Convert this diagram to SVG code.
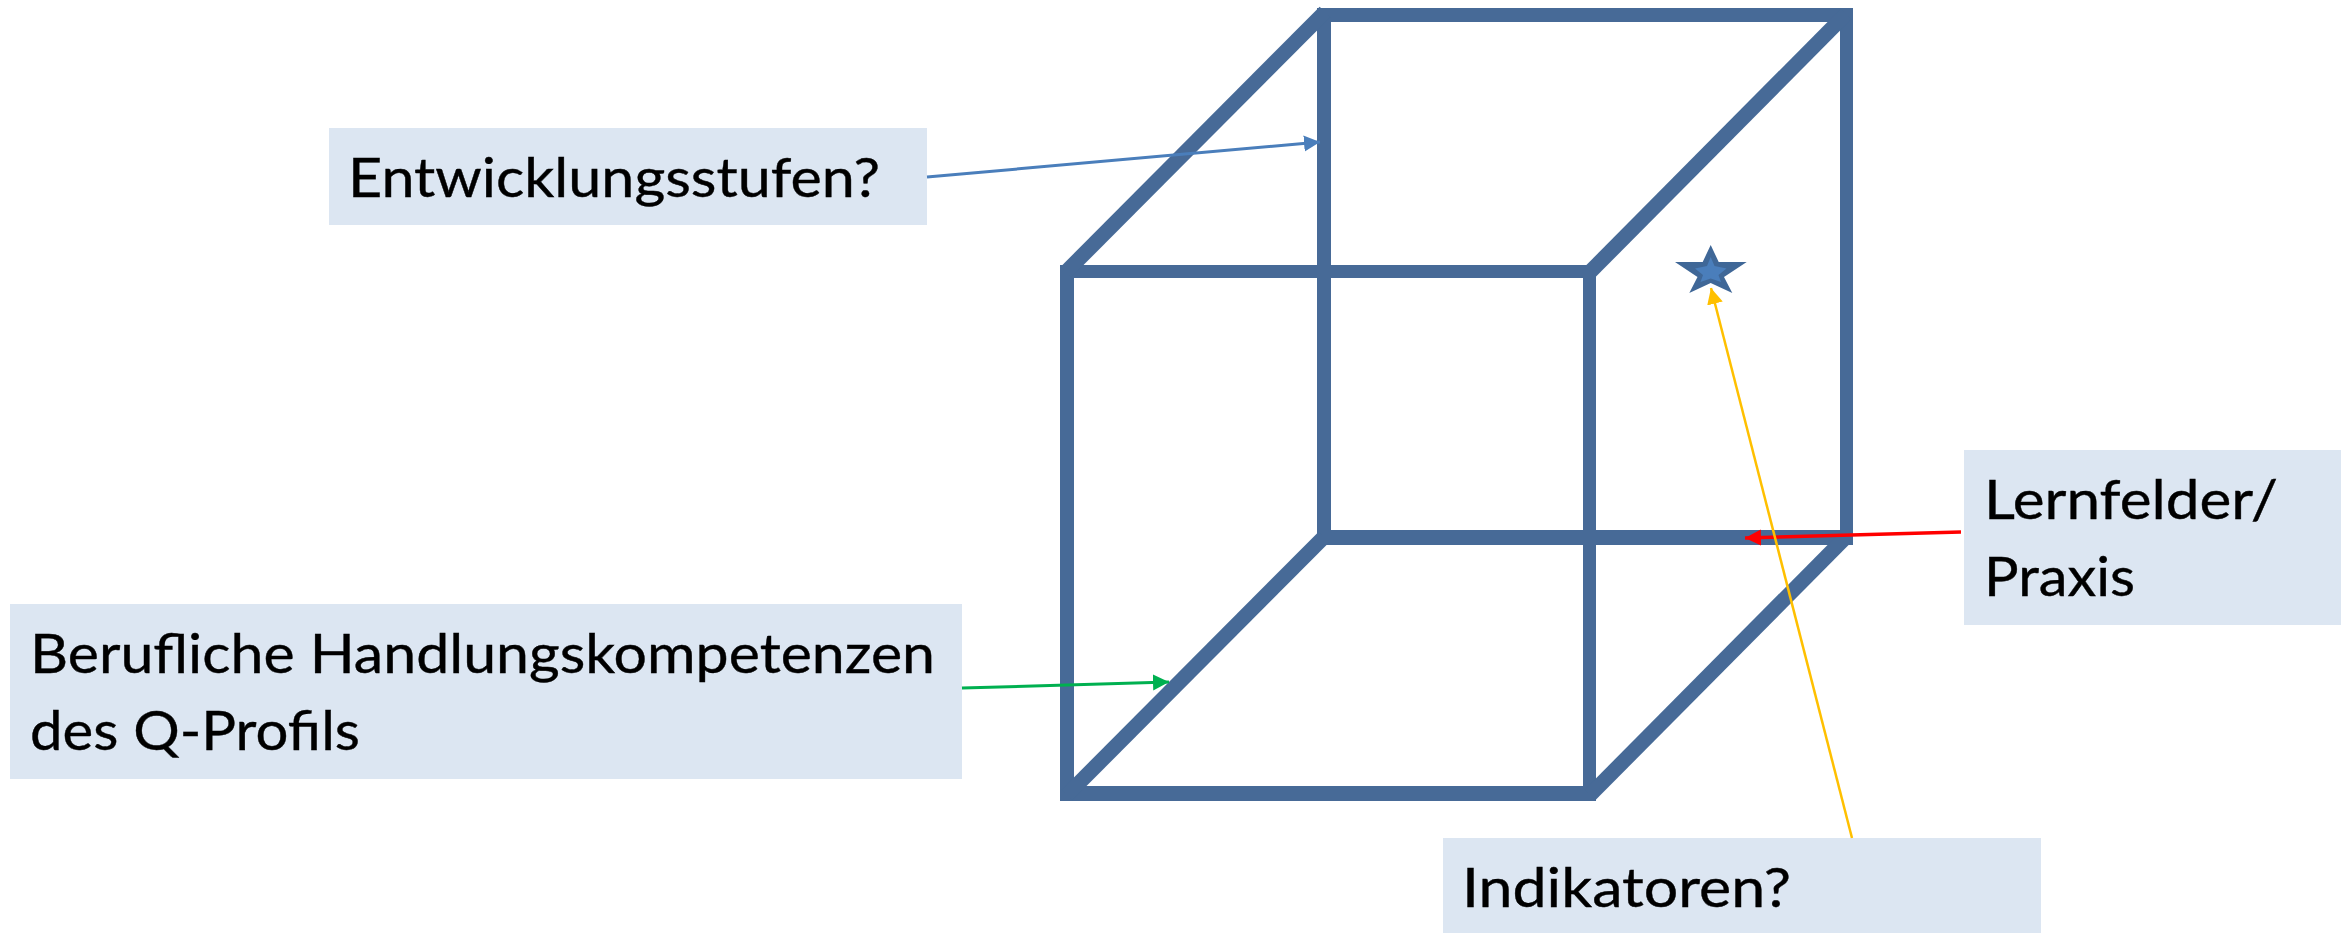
<svg xmlns="http://www.w3.org/2000/svg" width="2343" height="933" viewBox="0 0 2343 933">
<style>
.box{fill:#dce6f2}
.lbl{font-family:"Lato","Open Sans","Liberation Sans",sans-serif;font-size:55px;fill:#000;stroke:#000;stroke-width:0.400px}
.edge{fill:#466a97}
.diag{stroke:#466a97;stroke-width:15;fill:none}
.arr{fill:none}
</style>
<defs>
<filter id="soft" x="-2%" y="-2%" width="104%" height="104%"><feGaussianBlur stdDeviation="0.600"/></filter>
<marker id="hb" markerUnits="userSpaceOnUse" markerWidth="18" markerHeight="18" refX="16" refY="8" orient="auto"><path d="M0 0L16 8L0 16Z" fill="#4a7ebb"/></marker>
<marker id="hg" markerUnits="userSpaceOnUse" markerWidth="18" markerHeight="18" refX="16" refY="8" orient="auto"><path d="M0 0L16 8L0 16Z" fill="#00b050"/></marker>
<marker id="hr" markerUnits="userSpaceOnUse" markerWidth="18" markerHeight="18" refX="16" refY="8" orient="auto"><path d="M0 0L16 8L0 16Z" fill="#ff0000"/></marker>
<marker id="hy" markerUnits="userSpaceOnUse" markerWidth="18" markerHeight="18" refX="16" refY="8" orient="auto"><path d="M0 0L16 8L0 16Z" fill="#ffc000"/></marker>
</defs>
<rect width="2343" height="933" fill="#fff"/>
<g id="cube" filter="url(#soft)">
<rect class="edge" x="1317" y="8" width="536" height="14"/>
<rect class="edge" x="1060" y="265" width="536" height="13"/>
<rect class="edge" x="1317" y="530" width="536" height="15"/>
<rect class="edge" x="1060" y="786" width="536" height="15"/>
<rect class="edge" x="1060" y="265" width="14" height="536"/>
<rect class="edge" x="1583" y="265" width="13" height="536"/>
<rect class="edge" x="1317" y="8" width="14" height="536"/>
<rect class="edge" x="1840" y="8" width="13" height="536"/>
<line class="diag" x1="1325" y1="12" x2="1066" y2="272"/>
<line class="diag" x1="1846" y1="14" x2="1590" y2="272"/>
<line class="diag" x1="1324" y1="537" x2="1067" y2="795"/>
<line class="diag" x1="1846" y1="537" x2="1590" y2="795"/>
</g>
<g id="star">
<polygon points="1710.700,245 1718.700,262 1746.700,262 1724,277 1732.300,293 1710.700,283 1689.300,293 1697.500,277 1675,262 1702.700,262" fill="#3f6797"/>
<polygon points="1710.700,257 1714.500,266 1726.500,268.500 1718.500,275 1721,282 1710.700,278.500 1700.500,282 1703,275 1695,268.500 1707,266" fill="#4a7ebb"/>
</g>
<g id="node-entwicklungsstufen">
<rect class="box" x="329" y="128" width="598" height="97"/>
<text class="lbl" x="348" y="197" textLength="532" lengthAdjust="spacingAndGlyphs">Entwicklungsstufen?</text>
</g>
<g id="node-berufliche">
<rect class="box" x="10" y="604" width="952" height="175"/>
<text class="lbl" x="30" y="673" textLength="905" lengthAdjust="spacingAndGlyphs">Berufliche Handlungskompetenzen</text>
<text class="lbl" x="30" y="750" textLength="330" lengthAdjust="spacingAndGlyphs">des Q-Profils</text>
</g>
<g id="node-lernfelder">
<rect class="box" x="1964" y="450" width="377" height="175"/>
<text class="lbl" x="1984" y="519" textLength="294" lengthAdjust="spacingAndGlyphs">Lernfelder/</text>
<text class="lbl" x="1984" y="596" textLength="151" lengthAdjust="spacingAndGlyphs">Praxis</text>
</g>
<g id="node-indikatoren">
<rect class="box" x="1443" y="838" width="598" height="95"/>
<text class="lbl" x="1462" y="907" textLength="329" lengthAdjust="spacingAndGlyphs">Indikatoren?</text>
</g>
<g id="connectors">
<line class="arr" x1="927" y1="177" x2="1320" y2="142" stroke="#4a7ebb" stroke-width="3" marker-end="url(#hb)"/>
<line class="arr" x1="962" y1="688" x2="1169" y2="682" stroke="#00b050" stroke-width="3" marker-end="url(#hg)"/>
<line class="arr" x1="1961" y1="532" x2="1745" y2="538" stroke="#ff0000" stroke-width="3.500" marker-end="url(#hr)"/>
<line class="arr" x1="1852" y1="838" x2="1711" y2="288" stroke="#ffc000" stroke-width="2.500" marker-end="url(#hy)"/>
</g>
</svg>
